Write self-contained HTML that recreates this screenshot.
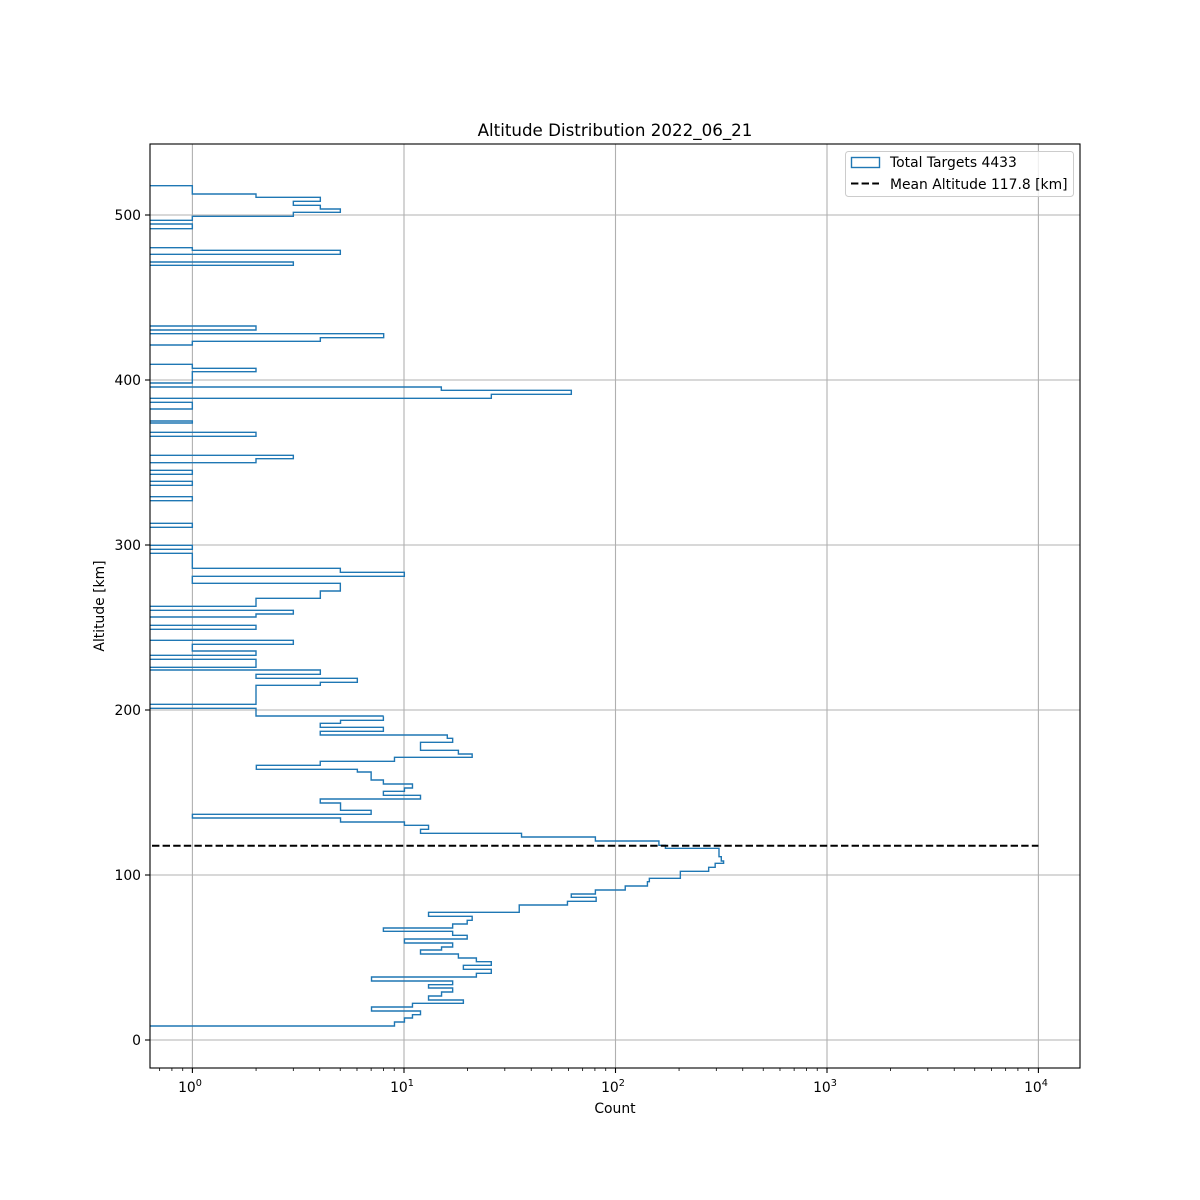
<!DOCTYPE html>
<html><head><meta charset="utf-8"><style>
html,body{margin:0;padding:0;background:#fff;}
svg{display:block;font-family:"DejaVu Sans","Liberation Sans",sans-serif;}
</style></head><body>
<svg width="1200" height="1200" viewBox="0 0 1200 1200" xmlns="http://www.w3.org/2000/svg">
<rect width="1200" height="1200" fill="#fff"/>
<defs><clipPath id="ax"><rect x="150" y="144" width="930" height="924"/></clipPath></defs>
<!-- grid -->
<g stroke="#b0b0b0" stroke-width="1.1">
<line x1="192.4" y1="144" x2="192.4" y2="1068"/>
<line x1="404" y1="144" x2="404" y2="1068"/>
<line x1="615.5" y1="144" x2="615.5" y2="1068"/>
<line x1="827" y1="144" x2="827" y2="1068"/>
<line x1="1038.4" y1="144" x2="1038.4" y2="1068"/>
<line x1="150" y1="1040" x2="1080" y2="1040"/>
<line x1="150" y1="875" x2="1080" y2="875"/>
<line x1="150" y1="710" x2="1080" y2="710"/>
<line x1="150" y1="545" x2="1080" y2="545"/>
<line x1="150" y1="380" x2="1080" y2="380"/>
<line x1="150" y1="215" x2="1080" y2="215"/>
</g>
<g clip-path="url(#ax)" fill="none" stroke="#1f77b4" stroke-width="1.4">
<g transform="translate(140,880) scale(0.38268,0.33333)">
<path vector-effect="non-scaling-stroke" d="M 0 438 H 665 V 426 H 691 V 414 H 712 V 404 H 733 V 393 H 605 V 381 H 712 V 370 H 845 V 360 H 754 V 348 H 788 V 336 H 817 V 324 H 754 V 314 H 817 V 303 H 605 V 291 H 879 V 280 H 918 V 268 H 845 V 256 H 918 V 245 H 879 V 234 H 832 V 222 H 733 V 210 H 788 V 201 H 817 V 189 H 691 V 177 H 855 V 166 H 817 V 154 H 636 V 144 H 817 V 132 H 855 V 121 H 868 V 109 H 754 V 97 H 991 V 75 H 1117 V 64 H 1192 V 52 H 1127 V 42 H 1190 V 30 H 1268 V 18 H 1326 V 5 H 1331 V 0"/>
</g>
<g transform="translate(140,700) scale(0.38268,0.33333)">
<path vector-effect="non-scaling-stroke" d="M 1331 540 V 535 H 1412 V 514 H 1486 V 502 H 1503 V 490 H 1525 V 483 H 1519 V 470 H 1513 V 445 H 1373 V 436 H 1356 V 423 H 1190 V 411 H 997 V 400 H 733 V 388 H 754 V 376 H 691 V 366 H 524 V 354 H 137 V 343 H 604 V 331 H 524 V 309 H 471 V 297 H 733 V 286 H 636 V 274 H 691 V 264 H 712 V 252 H 636 V 240 H 604 V 216 H 568 V 208 H 304 V 196 H 471 V 184 H 665 V 172 H 868 V 162 H 832 V 151 H 733 V 127 H 817 V 115 H 803 V 105 H 471 V 94 H 636 V 82 H 471 V 70 H 524 V 61 H 636 V 49"/>
</g>
<g transform="translate(140,440) scale(0.33333)">
<path vector-effect="non-scaling-stroke" d="M 731 828 H 348 V 805 H 28 V 793 H 348 V 736 H 541 V 727 H 652 V 715 H 348 V 703 H 541 V 690 H 28 V 682 H 348 V 658 H 28 V 646 H 348 V 633 H 157 V 613 H 460 V 601 H 28 V 568 H 348 V 556 H 28 V 531 H 348 V 522 H 460 V 511 H 28 V 499 H 348 V 475 H 541 V 453 H 601 V 430 H 157 V 409 H 793 V 397 H 601 V 385 H 157 V 340 H 28 V 328 H 157 V 316 H 28 V 262 H 157 V 250 H 28 V 182 H 157 V 170 H 28 V 136 H 157 V 124 H 28 V 103 H 157 V 91 H 28 V 68 H 348 V 56 H 460 V 46 H 28"/>
</g>
<g transform="translate(140,170) scale(0.33333)">
<path vector-effect="non-scaling-stroke" d="M 28 799 H 348 V 787 H 28 V 759 H 157 V 753 H 28 V 717 H 157 V 697 H 28 V 685 H 1054 V 673 H 1294 V 661 H 904 V 651 H 28 V 639 H 157 V 605 H 348 V 595 H 157 V 583 H 28 V 525 H 157 V 514 H 541 V 503 H 731 V 491 H 28 V 480 H 348 V 468 H 28 V 286 H 460 V 276 H 28 V 253 H 601 V 241 H 157 V 233 H 28 V 176 H 157 V 162 H 28 V 151 H 157 V 139 H 460 V 127 H 601 V 117 H 541 V 106 H 460 V 94 H 541 V 82 H 348 V 72 H 157 V 47 H 28"/>
</g>
</g>
<!-- mean line -->
<line x1="152" y1="845.7" x2="1038.4" y2="845.7" stroke="#000" stroke-width="2" stroke-dasharray="7.4,3.2"/>
<!-- spines -->
<rect x="150" y="144" width="930" height="924" fill="none" stroke="#000" stroke-width="1.1"/>
<g id="ticks" stroke="#000" stroke-width="1.1">
<line x1="150" y1="1040" x2="145" y2="1040"/>
<line x1="150" y1="875" x2="145" y2="875"/>
<line x1="150" y1="710" x2="145" y2="710"/>
<line x1="150" y1="545" x2="145" y2="545"/>
<line x1="150" y1="380" x2="145" y2="380"/>
<line x1="150" y1="215" x2="145" y2="215"/>
<line x1="192.4" y1="1068" x2="192.4" y2="1073"/>
<line x1="404" y1="1068" x2="404" y2="1073"/>
<line x1="615.5" y1="1068" x2="615.5" y2="1073"/>
<line x1="827" y1="1068" x2="827" y2="1073"/>
<line x1="1038.4" y1="1068" x2="1038.4" y2="1073"/>
</g>
<g font-size="13.9" fill="#000" text-anchor="end">
<text x="141" y="1045">0</text>
<text x="141" y="880">100</text>
<text x="141" y="715">200</text>
<text x="141" y="550">300</text>
<text x="141" y="385">400</text>
<text x="141" y="220">500</text>
</g>
<g font-size="13.9" fill="#000" text-anchor="middle">
<text x="190" y="1092">10<tspan font-size="9.7" dy="-6">0</tspan></text>
<text x="402" y="1092">10<tspan font-size="9.7" dy="-6">1</tspan></text>
<text x="613" y="1092">10<tspan font-size="9.7" dy="-6">2</tspan></text>
<text x="825" y="1092">10<tspan font-size="9.7" dy="-6">3</tspan></text>
<text x="1036" y="1092">10<tspan font-size="9.7" dy="-6">4</tspan></text>
<text x="615" y="1113">Count</text>
<text x="615" y="136" font-size="16.7">Altitude Distribution 2022_06_21</text>
<text transform="translate(104,606) rotate(-90)">Altitude [km]</text>
</g>
<!-- legend -->
<rect x="845.5" y="151.5" width="228" height="45" rx="3" fill="#fff" fill-opacity="0.8" stroke="#ccc" stroke-width="1"/>
<rect x="851.5" y="157.5" width="28" height="10" fill="none" stroke="#1f77b4" stroke-width="1.4"/>
<line x1="851" y1="183.5" x2="879" y2="183.5" stroke="#000" stroke-width="2" stroke-dasharray="7.4,3.2"/>
<g font-size="13.9" fill="#000">
<text x="890" y="167">Total Targets 4433</text>
<text x="890" y="189">Mean Altitude 117.8 [km]</text>
</g>
<script>
(function(){
var g=document.getElementById('ticks');var ns='http://www.w3.org/2000/svg';
for(var d=-1;d<4;d++){for(var k=2;k<10;k++){var x=192.4+(d+Math.log10(k))*211.5;
if(x<150||x>1080)continue;var l=document.createElementNS(ns,'line');
l.setAttribute('x1',x);l.setAttribute('x2',x);l.setAttribute('y1',1068);l.setAttribute('y2',1071);
l.setAttribute('stroke-width','0.8');g.appendChild(l);}}
})();
</script>
</svg>
</body></html>
